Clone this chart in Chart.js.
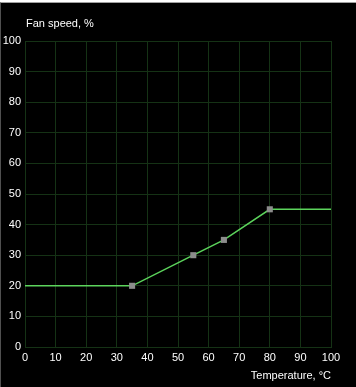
<!DOCTYPE html>
<html>
<head>
<meta charset="utf-8">
<script src="https://cdn.jsdelivr.net/npm/chart.js@4"></script>
<style>
    html, body { margin: 0; padding: 0; background: #fff; }
    #frame {
        position: absolute; left: 0; top: 2px;
        width: 355px; height: 384px;
        border-top: 1px solid #a0a0a0;
        border-left: 1px solid #505050;
        background: #000;
    }
    canvas { display: block; }
</style>
</head>
<body>
<div id="frame"><canvas id="fanChart" width="355" height="384"></canvas></div>
<script>
/* Fan curve data */
const temperatures = [0, 35, 55, 65, 80, 100]
const fanSpeeds = [20, 20, 30, 35, 45, 45]
const hasMarker = [false, true, true, true, true, false]

const yAxisLabel = 'Fan speed, %'
const xAxisLabel = 'Temperature, \u00B0C'

const gridColor = '#153215'
const tickFont = { family: 'Liberation Sans', size: 11 }

/* Label above the y axis */
const yLabelPlugin = {
    id: 'yLabel',
    afterDraw(chart) {
        const ctx = chart.ctx
        ctx.save()
        ctx.fillStyle = '#fff'
        ctx.font = '11px "Liberation Sans"'
        ctx.textBaseline = 'middle'
        ctx.textAlign = 'left'
        ctx.fillText(yAxisLabel, chart.chartArea.left + 1, 21)
        ctx.restore()
    }
}

const points = temperatures.map((t, i) => ({ x: t, y: fanSpeeds[i] }))

new Chart(document.getElementById('fanChart'), {
    type: 'scatter',
    data: {
        datasets: [{
            data: points,
            showLine: true,
            borderColor: '#5cd45c',
            borderWidth: 1.5,
            pointStyle: 'rect',
            pointRadius: hasMarker.map(m => m ? 4.3 : 0),
            pointBackgroundColor: '#8c8c8c',
            pointBorderColor: '#8c8c8c',
            pointBorderWidth: 0,
            pointHoverRadius: 0
        }]
    },
    options: {
        responsive: false,
        animation: false,
        layout: { padding: { top: 38, right: 25, bottom: 0, left: 0 } },
        plugins: {
            legend: { display: false },
            tooltip: { enabled: false }
        },
        scales: {
            x: {
                type: 'linear',
                min: 0,
                max: 100,
                afterFit: scale => { scale.height = 40 },
                grid: { color: gridColor, drawTicks: false },
                border: { color: gridColor },
                ticks: { stepSize: 10, color: '#fff', font: tickFont, padding: 4, maxRotation: 0 },
                title: {
                    display: true,
                    text: xAxisLabel,
                    align: 'end',
                    color: '#fff',
                    font: tickFont,
                    padding: { top: 0, bottom: 4 }
                }
            },
            y: {
                min: 0,
                max: 100,
                afterFit: scale => { scale.width = 24 },
                grid: { color: gridColor, drawTicks: false },
                border: { color: gridColor },
                ticks: { stepSize: 10, color: '#fff', font: tickFont, padding: 4 }
            }
        }
    },
    plugins: [yLabelPlugin]
})
</script>
</body>
</html>
